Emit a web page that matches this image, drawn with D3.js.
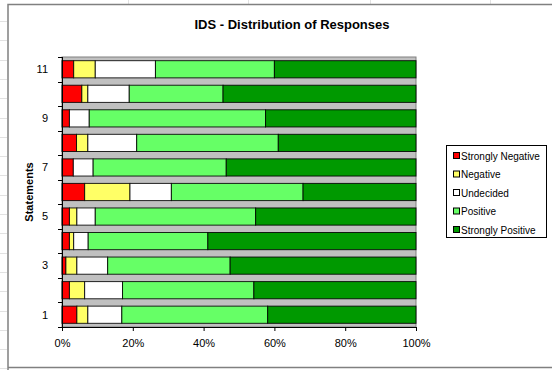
<!DOCTYPE html>
<html>
<head>
<meta charset="utf-8">
<script src="https://cdn.jsdelivr.net/npm/d3@7"></script>
<style>
  html, body { margin: 0; padding: 0; background: #fff; }
  svg { display: block; font-family: "Liberation Sans", Arial, sans-serif; }
</style>
</head>
<body>
<svg id="chart" width="552" height="370"></svg>
<script>
// Statements 1..11 (bottom to top)
const categories = ["1", "2", "3", "4", "5", "6", "7", "8", "9", "10", "11"];
const seriesNames = ["Strongly Negative", "Negative", "Undecided", "Positive", "Strongly Positive"];
const stronglyNegative = [4.2, 2.1, 1.1, 2.1, 2.1, 6.4, 3.2, 4.1, 2.1, 5.6, 3.3];
const negative         = [3.1, 4.3, 3.1, 1.2, 2.1, 12.8, 0, 3.2, 0, 1.7, 6.1];
const undecided        = [9.6, 10.7, 8.7, 4.1, 5.2, 11.7, 5.6, 13.8, 5.6, 11.7, 17.0];
const positive         = [41.2, 37.1, 34.6, 33.8, 45.3, 37.2, 37.6, 40.0, 49.8, 26.5, 33.6];
const stronglyPositive = [41.9, 45.8, 52.5, 58.8, 45.3, 31.9, 53.6, 38.9, 42.5, 54.5, 40.0];
const xTicks = [0, 0.2, 0.4, 0.6, 0.8, 1.0];
const yLabels = ["1", "3", "5", "7", "9", "11"];
const colors = ["#FF0000", "#FFFF66", "#FFFFFF", "#66FF66", "#009900"];

const seriesValues = [stronglyNegative, negative, undecided, positive, stronglyPositive];
const rows = categories.map((c, i) => {
  const r = { cat: c };
  seriesNames.forEach((s, k) => { r[s] = seriesValues[k][i]; });
  return r;
});

const svg = d3.select("#chart");

// sheet grid remnants around the chart frame
const gridG = svg.append("g").attr("stroke", "#e2e2e2").attr("stroke-width", 1);
d3.range(21, 370, 19.3).forEach(y => {
  gridG.append("line").attr("x1", 0).attr("x2", 7).attr("y1", Math.round(y) + 0.5).attr("y2", Math.round(y) + 0.5);
});
[128, 248, 370, 490].forEach(x => {
  gridG.append("line").attr("x1", x + 0.5).attr("x2", x + 0.5).attr("y1", 0).attr("y2", 4);
});

// chart frame
svg.append("path")
  .attr("d", "M8,370 L8,4.5 L552,4.5 M8,367.5 L552,367.5")
  .attr("fill", "none").attr("stroke", "#808080").attr("stroke-width", 1.5);

const plot = { left: 62, right: 416, top: 57, bottom: 327 };

const x = d3.scaleLinear().domain([0, 1]).range([plot.left, plot.right]);
const y = d3.scaleBand().domain(categories).range([plot.bottom, plot.top])
  .paddingInner(0.3).paddingOuter(0.15);

// plot area background
svg.append("rect")
  .attr("x", plot.left).attr("y", plot.top)
  .attr("width", plot.right - plot.left).attr("height", plot.bottom - plot.top)
  .attr("fill", "#C0C0C0").attr("stroke", "#808080").attr("stroke-width", 1);

const stack = d3.stack().keys(seriesNames).offset(d3.stackOffsetExpand);
const layers = stack(rows);

const barG = svg.append("g");
layers.forEach((layer, k) => {
  barG.append("g").attr("fill", colors[k])
    .selectAll("rect")
    .data(layer.filter(d => d[1] - d[0] > 1e-6))
    .join("rect")
    .attr("x", d => x(d[0]))
    .attr("y", d => y(d.data.cat))
    .attr("width", d => x(d[1]) - x(d[0]))
    .attr("height", y.bandwidth())
    .attr("stroke", "#000")
    .attr("stroke-opacity", 0.85)
    .attr("stroke-width", 1);
});

// x axis
const xAxis = d3.axisBottom(x).tickValues(xTicks).tickFormat(d3.format(".0%")).tickSize(4).tickSizeOuter(0);
const xg = svg.append("g").attr("transform", `translate(0,${plot.bottom})`).call(xAxis);
xg.select(".domain").attr("stroke", "#000");
xg.selectAll(".tick line").attr("stroke", "#000");
xg.selectAll("text").attr("font-size", 11).attr("fill", "#000").attr("dy", "1.15em");

// y axis: line, ticks between categories, labels on alternate categories
const yg = svg.append("g");
yg.append("line").attr("x1", plot.left + 0.5).attr("x2", plot.left + 0.5)
  .attr("y1", plot.top).attr("y2", plot.bottom + 4).attr("stroke", "#000");
const step = y.step();
d3.range(categories.length + 1).forEach(i => {
  const yy = Math.round(plot.top + i * step) + 0.5;
  yg.append("line").attr("x1", plot.left - 4).attr("x2", plot.left).attr("y1", yy).attr("y2", yy).attr("stroke", "#000");
});
yg.selectAll("text.ylab").data(yLabels).join("text")
  .attr("class", "ylab")
  .attr("x", plot.left - 14)
  .attr("y", d => y(d) + y.bandwidth() / 2)
  .attr("dy", "0.35em")
  .attr("text-anchor", "end")
  .attr("font-size", 11)
  .text(d => d);

// y axis title
svg.append("text")
  .attr("transform", `translate(33,${(plot.top + plot.bottom) / 2}) rotate(-90)`)
  .attr("text-anchor", "middle")
  .attr("font-size", 11).attr("font-weight", "bold")
  .text("Statements");

// title
svg.append("text")
  .attr("x", 292).attr("y", 29)
  .attr("text-anchor", "middle")
  .attr("font-size", 13).attr("font-weight", "bold")
  .text("IDS - Distribution of Responses");

// legend
const lg = svg.append("g");
lg.append("rect").attr("x", 446.5).attr("y", 145.5).attr("width", 100).attr("height", 92)
  .attr("fill", "#fff").attr("stroke", "#000");
seriesNames.forEach((s, k) => {
  const cy = 156 + k * 18.5;
  lg.append("rect").attr("x", 453.5).attr("y", cy - 3.5).attr("width", 6).attr("height", 6)
    .attr("fill", colors[k]).attr("stroke", "#000");
  lg.append("text").attr("x", 461).attr("y", cy).attr("dy", "0.35em")
    .attr("font-size", 10).text(s);
});
</script>
</body>
</html>
